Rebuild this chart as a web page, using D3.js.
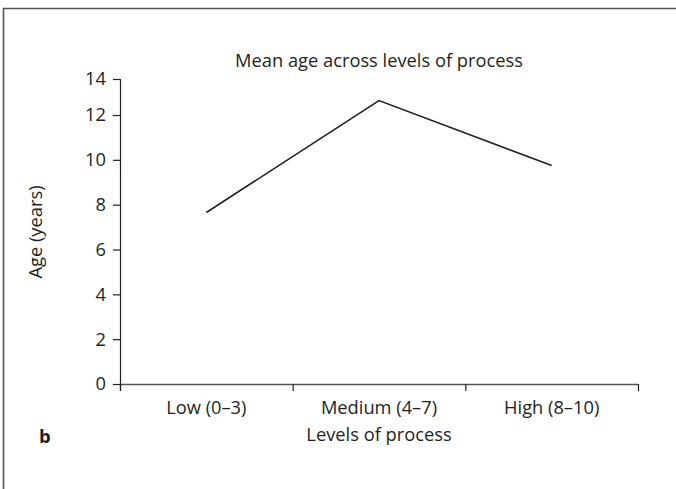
<!DOCTYPE html>
<html>
<head>
<meta charset="utf-8">
<script src="https://cdn.jsdelivr.net/npm/d3@7"></script>
<style>
  html, body { margin: 0; padding: 0; background: #fff; }
  svg { display: block; }
  text { font-family: "Open Sans", "Noto Sans", sans-serif; fill: #231f20; }
</style>
</head>
<body>
<svg id="chart" width="676" height="489"></svg>
<script>
// Mean age per level of process
const categories = ["Low (0\u20133)", "Medium (4\u20137)", "High (8\u201310)"];
const meanAge = [7.65, 12.8, 9.75];
const yTicks = [0, 2, 4, 6, 8, 10, 12, 14];

const svg = d3.select("#chart");
const FS = "18.3px";

// panel frame (open to the right and bottom)
svg.append("path")
  .attr("d", "M3.5,489 V8.5 H676")
  .attr("fill", "none")
  .attr("stroke", "#555")
  .attr("stroke-width", 1.6);

const left = 120, right = 638, bottom = 384;

const x = d3.scaleBand().domain(categories).range([left, right]).padding(0);
// axis is drawn with a slightly tighter top segment
const y = d3.scaleLinear().domain([0, 12, 14]).range([bottom, 115, 79]);

// y axis
const yAxis = svg.append("g")
  .attr("transform", `translate(${left},0)`)
  .call(d3.axisLeft(y).tickValues(yTicks).tickSize(7).tickPadding(7).tickSizeOuter(0));
yAxis.attr("font-family", null).attr("font-size", null);
yAxis.select(".domain").attr("stroke", "#231f20").attr("stroke-width", 1.2)
  .attr("d", `M0.5,${y(14)}V${bottom + 7}`);
yAxis.selectAll(".tick line").attr("stroke", "#231f20").attr("stroke-width", 1.2);
yAxis.selectAll(".tick text").style("font-size", FS).attr("fill", "#231f20");

// x axis with boundary ticks between categories
const xAxis = svg.append("g").attr("transform", `translate(0,${bottom})`);
xAxis.append("line")
  .attr("x1", left).attr("x2", right)
  .attr("y1", 0.5).attr("y2", 0.5)
  .attr("stroke", "#555").attr("stroke-width", 1.4);
const bounds = categories.map(c => x(c) + x.bandwidth()).concat([left]);
xAxis.selectAll(".bt").data(bounds).join("line")
  .attr("x1", d => d + 0.5).attr("x2", d => d + 0.5)
  .attr("y1", 0).attr("y2", 7)
  .attr("stroke", "#231f20").attr("stroke-width", 1.2);
xAxis.selectAll(".cl").data(categories).join("text")
  .attr("x", d => x(d) + x.bandwidth() / 2)
  .attr("y", 30)
  .attr("text-anchor", "middle")
  .style("font-size", FS)
  .text(d => d);

// line
const line = d3.line()
  .x((d, i) => x(categories[i]) + x.bandwidth() / 2)
  .y(d => y(d));
svg.append("path")
  .datum(meanAge)
  .attr("d", line)
  .attr("fill", "none")
  .attr("stroke", "#231f20")
  .attr("stroke-width", 1.6);

// titles
svg.append("text")
  .attr("x", 379).attr("y", 67)
  .attr("text-anchor", "middle")
  .style("font-size", FS)
  .text("Mean age across levels of process");

svg.append("text")
  .attr("x", 379).attr("y", 441)
  .attr("text-anchor", "middle")
  .style("font-size", FS)
  .text("Levels of process");

svg.append("text")
  .attr("transform", "translate(42,232) rotate(-90)")
  .attr("text-anchor", "middle")
  .style("font-size", FS)
  .text("Age (years)");

svg.append("text")
  .attr("x", 39).attr("y", 443)
  .style("font-size", "18.5px")
  .style("font-weight", "bold")
  .text("b");
</script>
</body>
</html>
